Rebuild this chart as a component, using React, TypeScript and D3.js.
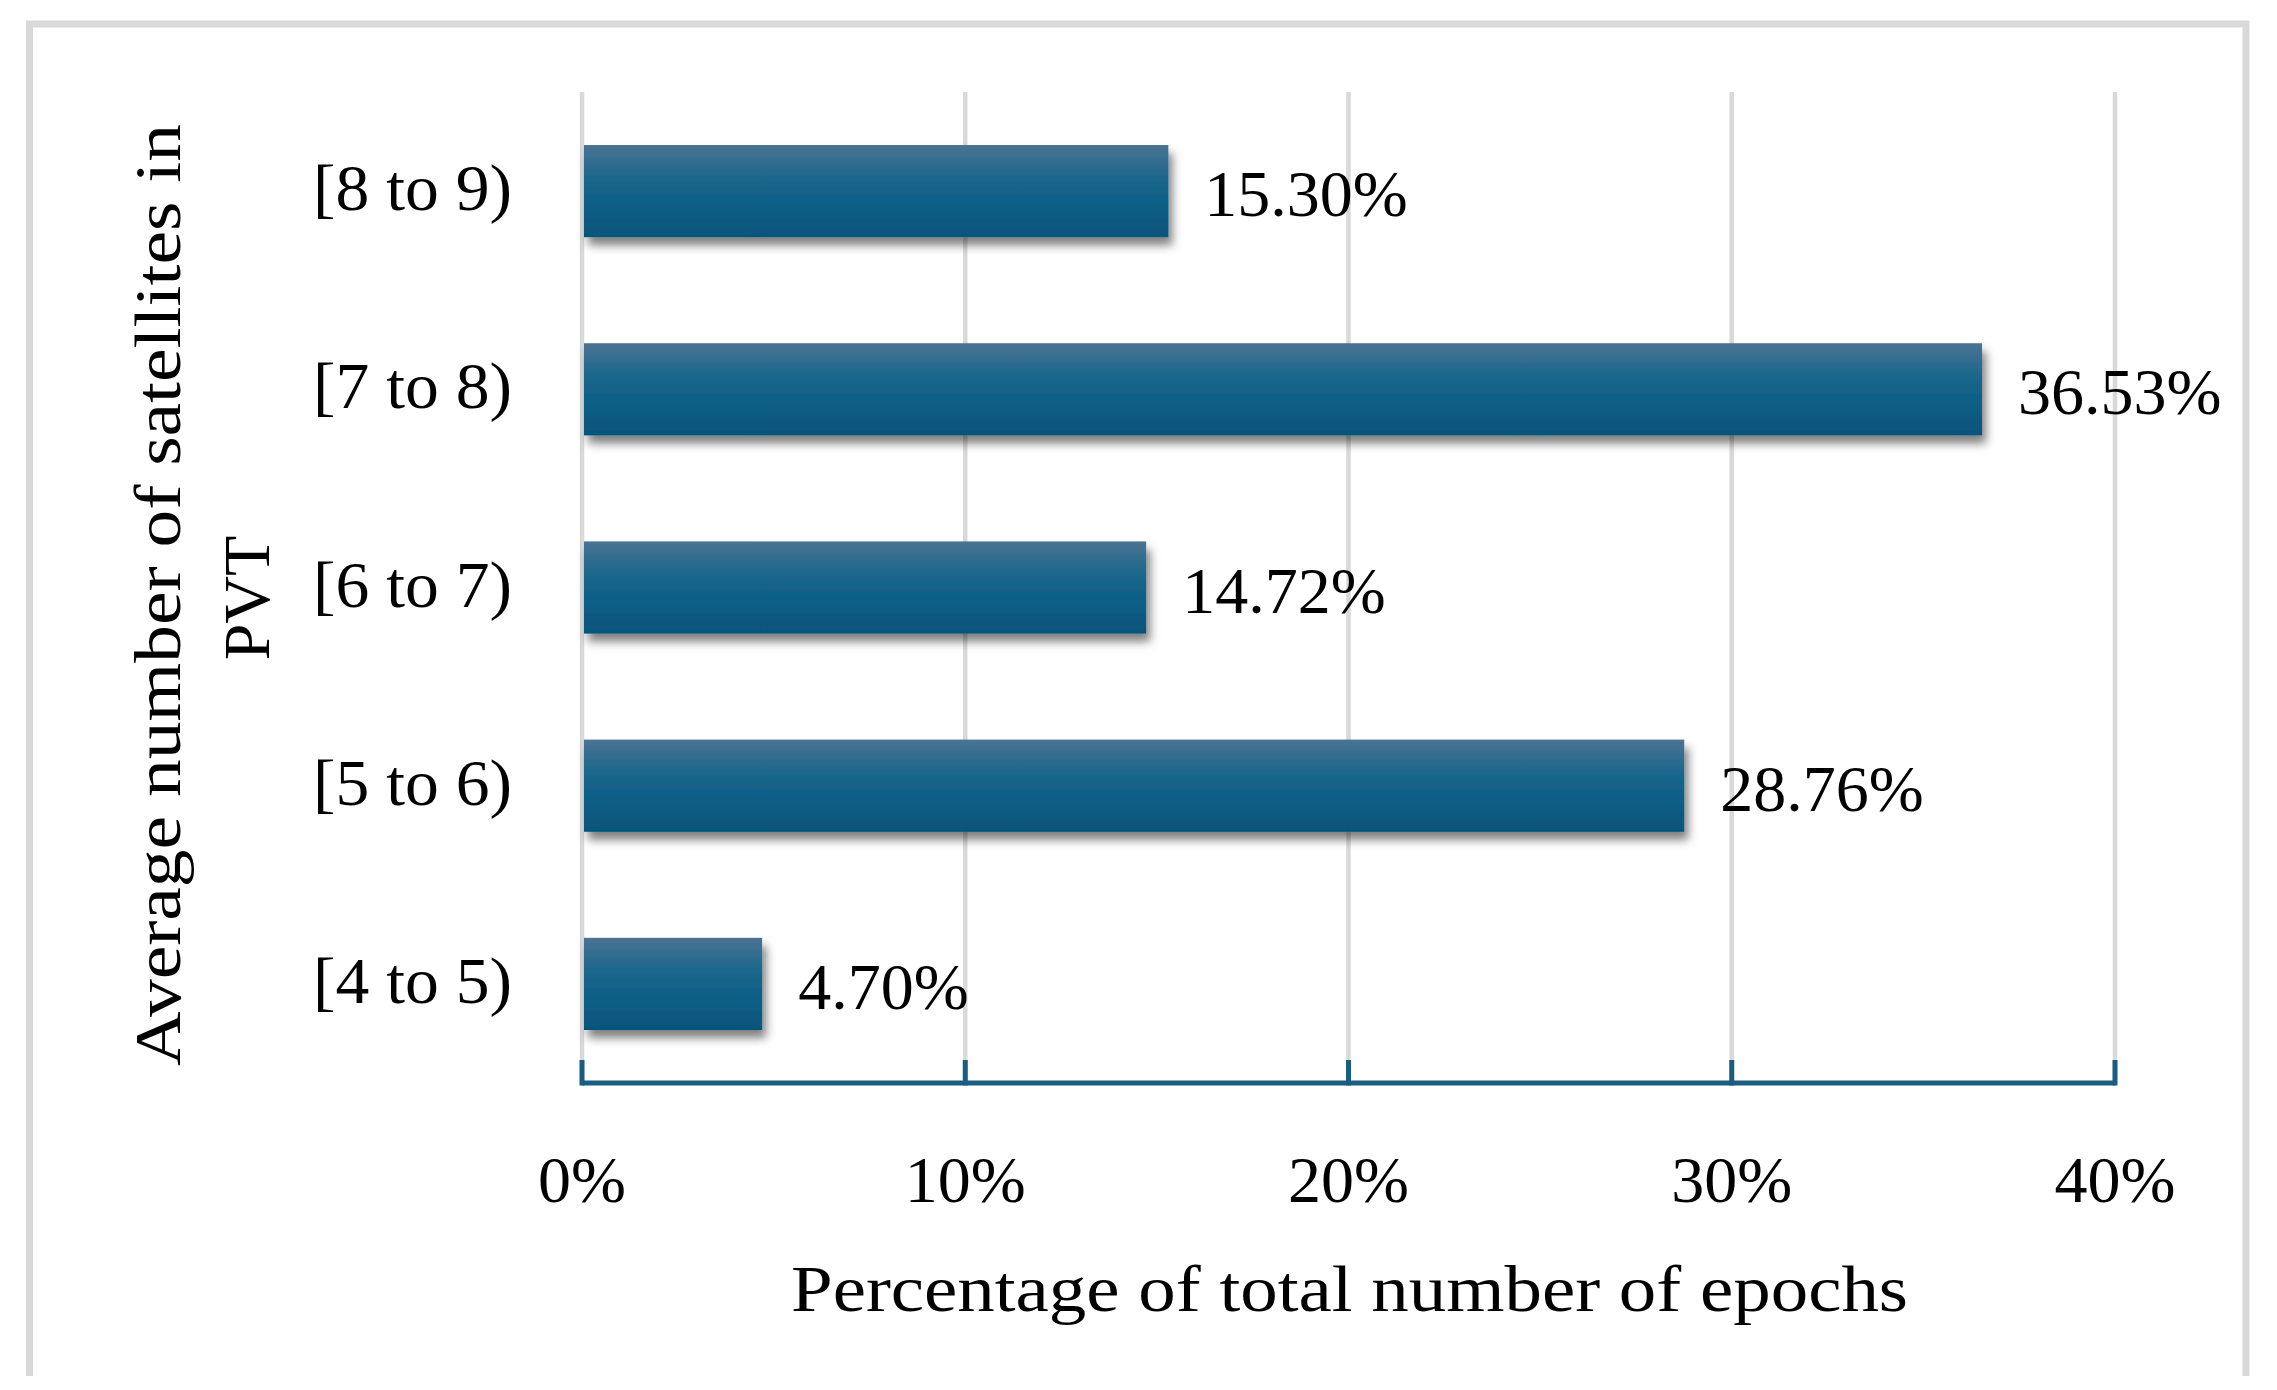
import React from "react";
import * as d3 from "d3";

// data
const categories = ["[8 to 9)", "[7 to 8)", "[6 to 7)", "[5 to 6)", "[4 to 5)"];
const percentages = [15.3, 36.53, 14.72, 28.76, 4.7];
const xTicks = [0, 10, 20, 30, 40];
const yTitleLines = ["Average number of satellites in", "PVT"];
const xTitle = "Percentage of total number of epochs";

const W = 2277;
const H = 1390;
const FONT = "'Liberation Serif', 'Times New Roman', serif";
const AXIS = "#1b5d80";
const GRID = "#d9d9d9";

const App: React.FC = () => {
  const x = d3.scaleLinear().domain([0, 40]).range([582, 2115]);
  const y = d3
    .scaleBand()
    .domain(categories)
    .range([92, 1083])
    .paddingInner(0.535)
    .paddingOuter(0.2675);

  const axisY = 1083;

  return (
    <div style={{ position: "absolute", left: 0, top: 0 }}>
      <svg width={W} height={H} style={{ display: "block", background: "#fff" }}>
        <defs>
          <linearGradient id="barFill" x1="0" y1="0" x2="0" y2="1">
            <stop offset="0%" stopColor="#4b7393" />
            <stop offset="35%" stopColor="#1c678c" />
            <stop offset="65%" stopColor="#0c5e86" />
            <stop offset="100%" stopColor="#06547a" />
          </linearGradient>
          <filter id="shadow" x="-10%" y="-30%" width="130%" height="180%">
            <feDropShadow dx="4" dy="8" stdDeviation="5" floodColor="#000" floodOpacity="0.5" />
          </filter>
        </defs>

        {/* outer frame, bottom edge cut off */}
        <path d={`M29.5,1376 V24 H2246 V1376`} fill="none" stroke={GRID} strokeWidth={7} />

        {/* gridlines */}
        {xTicks.map((t) => (
          <line key={"g" + t} x1={x(t)} x2={x(t)} y1={92} y2={axisY} stroke={GRID} strokeWidth={4.5} />
        ))}

        {/* bars */}
        {categories.map((c, i) => (
          <rect
            key={c}
            x={x(0) + 2}
            y={y(c)}
            width={x(percentages[i]) - x(0) - 2}
            height={y.bandwidth()}
            fill="url(#barFill)"
            filter="url(#shadow)"
          />
        ))}

        {/* x axis with inner ticks */}
        <line x1={x(0)} x2={x(40)} y1={axisY} y2={axisY} stroke={AXIS} strokeWidth={5} />
        {xTicks.map((t) => (
          <line key={"t" + t} x1={x(t)} x2={x(t)} y1={axisY - 23} y2={axisY + 2.5} stroke={AXIS} strokeWidth={5} />
        ))}

        <g fontFamily={FONT} fontSize={66} fill="#000">
          {/* value labels */}
          {categories.map((c, i) => (
            <text key={"v" + c} x={x(percentages[i]) + 36} y={(y(c) ?? 0) + y.bandwidth() / 2 + 25}>
              {percentages[i].toFixed(2) + "%"}
            </text>
          ))}

          {/* category labels */}
          {categories.map((c) => (
            <text
              key={"c" + c}
              x={512}
              y={(y(c) ?? 0) + y.bandwidth() / 2 + 19}
              textAnchor="end"
              textLength={199}
              lengthAdjust="spacingAndGlyphs"
            >
              {c}
            </text>
          ))}

          {/* tick labels */}
          {xTicks.map((t) => (
            <text key={"l" + t} x={x(t)} y={1202} textAnchor="middle">
              {t + "%"}
            </text>
          ))}

          {/* axis titles */}
          <text x={1349.5} y={1311} textAnchor="middle" textLength={1117} lengthAdjust="spacingAndGlyphs">
            {xTitle}
          </text>
          <text
            transform="translate(180,595) rotate(-90)"
            textAnchor="middle"
            textLength={942}
            lengthAdjust="spacingAndGlyphs"
          >
            {yTitleLines[0]}
          </text>
          <text transform="translate(269,598) rotate(-90)" textAnchor="middle">
            {yTitleLines[1]}
          </text>
        </g>
      </svg>
    </div>
  );
};

export default App;
